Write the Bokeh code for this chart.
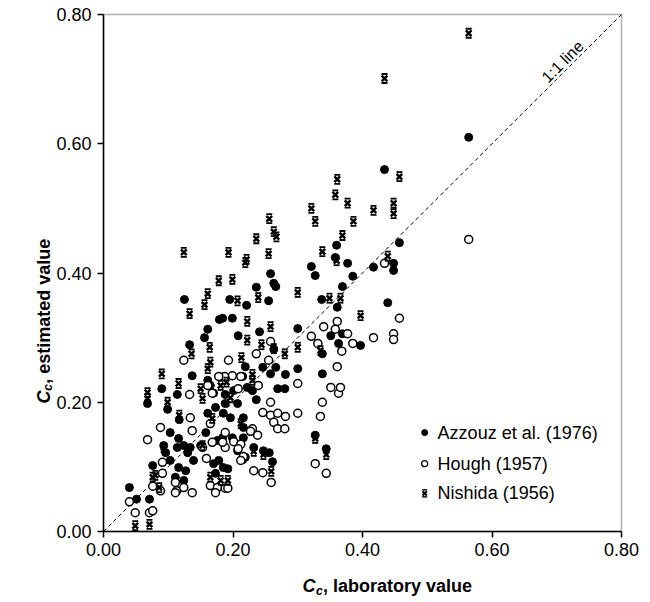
from math import pi

import numpy as np
from bokeh.embed import file_html
from bokeh.models import BoxAnnotation, FixedTicker, Label, NumeralTickFormatter, Range1d
from bokeh.plotting import figure
from bokeh.resources import INLINE

FONT = "Liberation Sans"

# Compression index Cc: laboratory value (x) vs. value estimated by each correlation (y)
azzouz_lab = [
    0.564, 0.434, 0.457, 0.377, 0.385, 0.417, 0.448, 0.448, 0.369, 0.439,
    0.369, 0.397, 0.360, 0.358, 0.258, 0.321, 0.327, 0.236, 0.263, 0.266,
    0.195, 0.221, 0.255, 0.337, 0.361, 0.184, 0.199, 0.241, 0.208, 0.300,
    0.351, 0.363, 0.263, 0.338, 0.219, 0.246, 0.266, 0.300, 0.258, 0.281,
    0.215, 0.338, 0.269, 0.280, 0.230, 0.125, 0.179, 0.161, 0.156, 0.133,
    0.137, 0.090, 0.114, 0.170, 0.161, 0.188, 0.068, 0.099, 0.117, 0.040,
    0.076, 0.071, 0.051, 0.236, 0.185, 0.184, 0.216, 0.216, 0.232, 0.247,
    0.256, 0.261, 0.327, 0.344, 0.192, 0.215, 0.222, 0.165, 0.201, 0.188,
    0.207, 0.173, 0.161, 0.196, 0.103, 0.116, 0.158, 0.176, 0.199, 0.216,
    0.093, 0.124, 0.150, 0.096, 0.114, 0.134, 0.103, 0.116, 0.127, 0.139,
    0.111, 0.124, 0.170, 0.178, 0.185, 0.173, 0.130, 0.207, 0.219,
]
azzouz_est = [
    0.610, 0.560, 0.447, 0.415, 0.395, 0.409, 0.415, 0.404, 0.379, 0.354,
    0.306, 0.288, 0.443, 0.424, 0.399, 0.410, 0.396, 0.378, 0.384, 0.379,
    0.359, 0.350, 0.357, 0.359, 0.347, 0.330, 0.330, 0.309, 0.303, 0.314,
    0.303, 0.291, 0.282, 0.275, 0.255, 0.254, 0.254, 0.252, 0.244, 0.243,
    0.240, 0.244, 0.221, 0.221, 0.218, 0.359, 0.328, 0.313, 0.300, 0.289,
    0.241, 0.221, 0.212, 0.214, 0.234, 0.212, 0.198, 0.189, 0.173, 0.068,
    0.102, 0.050, 0.050, 0.204, 0.183, 0.145, 0.161, 0.176, 0.130, 0.125,
    0.122, 0.108, 0.149, 0.128, 0.097, 0.111, 0.223, 0.226, 0.218, 0.198,
    0.198, 0.192, 0.183, 0.176, 0.153, 0.144, 0.153, 0.141, 0.145, 0.145,
    0.133, 0.133, 0.133, 0.122, 0.130, 0.130, 0.110, 0.099, 0.094, 0.110,
    0.084, 0.079, 0.105, 0.110, 0.099, 0.090, 0.122, 0.125, 0.115,
]

hough_lab = [
    0.564, 0.434, 0.457, 0.377, 0.385, 0.417, 0.448, 0.448, 0.258, 0.236,
    0.193, 0.255, 0.321, 0.331, 0.361, 0.358, 0.368, 0.340, 0.361, 0.199,
    0.239, 0.300, 0.351, 0.363, 0.187, 0.124, 0.178, 0.133, 0.161, 0.134,
    0.068, 0.088, 0.040, 0.049, 0.071, 0.076, 0.088, 0.091, 0.113, 0.124,
    0.159, 0.168, 0.188, 0.165, 0.176, 0.188, 0.208, 0.366, 0.258, 0.338,
    0.246, 0.258, 0.269, 0.281, 0.300, 0.335, 0.263, 0.269, 0.280, 0.230,
    0.227, 0.238, 0.201, 0.212, 0.216, 0.212, 0.232, 0.246, 0.259, 0.327,
    0.344, 0.192, 0.188, 0.212, 0.168, 0.137, 0.165, 0.184, 0.208, 0.091,
    0.111, 0.111, 0.137, 0.173, 0.076, 0.153,
]
hough_est = [
    0.452, 0.415, 0.330, 0.306, 0.291, 0.300, 0.306, 0.297, 0.294, 0.275,
    0.265, 0.265, 0.302, 0.291, 0.325, 0.313, 0.279, 0.317, 0.255, 0.241,
    0.226, 0.229, 0.223, 0.214, 0.240, 0.265, 0.240, 0.212, 0.226, 0.176,
    0.142, 0.161, 0.046, 0.029, 0.029, 0.070, 0.063, 0.107, 0.063, 0.068,
    0.113, 0.138, 0.153, 0.071, 0.068, 0.067, 0.221, 0.223, 0.200, 0.200,
    0.184, 0.180, 0.183, 0.178, 0.183, 0.178, 0.169, 0.159, 0.159, 0.159,
    0.155, 0.149, 0.139, 0.135, 0.116, 0.110, 0.094, 0.091, 0.076, 0.105,
    0.090, 0.067, 0.130, 0.240, 0.214, 0.156, 0.167, 0.138, 0.128, 0.090,
    0.076, 0.060, 0.060, 0.060, 0.032, 0.130,
]

nishida_lab = [
    0.564, 0.434, 0.377, 0.417, 0.448, 0.448, 0.386, 0.369, 0.439, 0.397,
    0.457, 0.361, 0.358, 0.321, 0.327, 0.256, 0.263, 0.267, 0.236, 0.338,
    0.255, 0.221, 0.124, 0.193, 0.219, 0.360, 0.199, 0.239, 0.300, 0.349,
    0.366, 0.207, 0.222, 0.258, 0.222, 0.244, 0.263, 0.280, 0.300, 0.213,
    0.335, 0.230, 0.190, 0.178, 0.161, 0.156, 0.133, 0.164, 0.136, 0.165,
    0.161, 0.090, 0.116, 0.068, 0.150, 0.068, 0.099, 0.117, 0.076, 0.086,
    0.049, 0.071, 0.165, 0.327, 0.344, 0.247, 0.232, 0.259, 0.192, 0.181,
    0.230, 0.153, 0.168, 0.196, 0.181, 0.212, 0.080, 0.093, 0.153,
]
nishida_est = [
    0.771, 0.701, 0.508, 0.497, 0.508, 0.492, 0.480, 0.458, 0.426, 0.334,
    0.549, 0.545, 0.521, 0.500, 0.480, 0.484, 0.464, 0.456, 0.453, 0.433,
    0.430, 0.421, 0.432, 0.432, 0.416, 0.419, 0.390, 0.362, 0.370, 0.361,
    0.361, 0.357, 0.325, 0.317, 0.296, 0.289, 0.283, 0.275, 0.285, 0.269,
    0.280, 0.243, 0.231, 0.388, 0.368, 0.351, 0.337, 0.285, 0.275, 0.262,
    0.252, 0.244, 0.229, 0.215, 0.221, 0.206, 0.200, 0.180, 0.084, 0.068,
    0.009, 0.011, 0.084, 0.144, 0.119, 0.119, 0.124, 0.093, 0.079, 0.079,
    0.234, 0.206, 0.175, 0.207, 0.226, 0.167, 0.087, 0.130, 0.133,
]

series_names = ["Azzouz et al. (1976)", "Hough (1957)", "Nishida (1956)"]
axis_ticks = [0.0, 0.2, 0.4, 0.6, 0.8]
one_to_one = [0.0, 0.8]
AX_MIN, AX_MAX = 0.0, 0.8

# The frame covers the whole canvas; the ranges are padded so that the
# 0-0.8 box sits where the axes are drawn (103..621 px across, 14..531 px down).
PX_PER_UNIT_X = 518 / 0.8
PX_PER_UNIT_Y = 517 / 0.8
x_range = Range1d(AX_MIN - 103 / PX_PER_UNIT_X, AX_MAX + 29 / PX_PER_UNIT_X)
y_range = Range1d(AX_MIN - 71 / PX_PER_UNIT_Y, AX_MAX + 14 / PX_PER_UNIT_Y)

# half-height of the caps on the Nishida marker, in data units (~4.5 px)
CAP = 4.5 / PX_PER_UNIT_Y

p = figure(
    width=650, height=602, x_range=x_range, y_range=y_range,
    output_backend="svg", toolbar_location=None, title=None,
    min_border=0, background_fill_color="white", border_fill_color="white",
)
p.xgrid.visible = False
p.ygrid.visible = False
p.outline_line_color = None

for ax in (p.xaxis[0], p.yaxis[0]):
    ax.fixed_location = 0.0
    ax.bounds = (AX_MIN, AX_MAX)
    ax.ticker = FixedTicker(ticks=axis_ticks)
    ax.formatter = NumeralTickFormatter(format="0.00")
    ax.minor_tick_line_color = None
    ax.major_tick_in = 0
    ax.major_tick_out = 6
    ax.major_tick_line_width = 1.5
    ax.axis_line_width = 1.5
    ax.major_label_text_font = FONT
    ax.major_label_text_font_size = "18px"
    ax.major_label_text_color = "black"
p.xaxis.major_label_standoff = 5
p.yaxis.major_label_standoff = 6

# closed box around the 0-0.8 area
p.add_layout(BoxAnnotation(left=AX_MIN, right=AX_MAX, bottom=AX_MIN, top=AX_MAX,
                           fill_color=None, line_color="black", line_width=1.5,
                           level="underlay"))

# 1:1 reference line
p.line(one_to_one, one_to_one, line_color="black", line_width=1, line_dash="4 3")
p.add_layout(Label(x=0.709, y=0.727, text="1:1 line", angle=pi / 4,
                   text_align="center", text_baseline="middle",
                   text_font=FONT, text_font_size="16px", text_color="black"))

# Azzouz: filled circles
p.scatter(azzouz_lab, azzouz_est, marker="circle", size=8,
          fill_color="black", line_color="black", line_width=1)
# Hough: open circles
p.scatter(hough_lab, hough_est, marker="circle", size=8,
          fill_color="white", line_color="black", line_width=1.5)
# Nishida: bold x with horizontal caps
n_lab = np.array(nishida_lab)
n_est = np.array(nishida_est)
p.scatter(n_lab, n_est, marker="x", size=8, line_color="black", line_width=2.5)
p.scatter(n_lab, n_est + CAP, marker="dash", size=6, line_color="black", line_width=1.8)
p.scatter(n_lab, n_est - CAP, marker="dash", size=6, line_color="black", line_width=1.8)

# Legend (lower right)
leg_x = 0.496
leg_text_x = 0.516
leg_rows = [0.153, 0.105, 0.059]
p.scatter([leg_x], [leg_rows[0]], marker="circle", size=6, fill_color="black", line_color="black")
p.scatter([leg_x], [leg_rows[1]], marker="circle", size=6, fill_color="white",
          line_color="black", line_width=1.3)
p.scatter([leg_x], [leg_rows[2]], marker="x", size=6, line_color="black", line_width=2)
p.scatter([leg_x, leg_x], [leg_rows[2] + 3.5 / PX_PER_UNIT_Y, leg_rows[2] - 3.5 / PX_PER_UNIT_Y],
          marker="dash", size=5, line_color="black", line_width=1.4)
for name, yy in zip(series_names, leg_rows):
    p.add_layout(Label(x=leg_text_x, y=yy, text=name, text_align="left",
                       text_baseline="middle", text_font=FONT,
                       text_font_size="18px", text_color="black"))


# Axis titles: italic C with subscript c, then the rest in bold
def title_piece(x, y, text, size, style, angle=0.0):
    p.add_layout(Label(x=x, y=y, text=text, angle=angle, text_align="left",
                       text_baseline="alphabetic", text_font=FONT,
                       text_font_size=size, text_font_style=style,
                       text_color="black"))


title_piece(0.3073, -0.0851, "C", "18px", "bold italic")
title_piece(0.3280, -0.0913, "c", "12px", "bold italic")
title_piece(0.3390, -0.0851, ", laboratory value", "18px", "bold")

title_piece(-0.0919, 0.198, "C", "18px", "bold italic", pi / 2)
title_piece(-0.0857, 0.2179, "c", "12px", "bold italic", pi / 2)
title_piece(-0.0919, 0.2286, ", estimated value", "18px", "bold", pi / 2)

open("out.html", "w").write(file_html(p, INLINE))
